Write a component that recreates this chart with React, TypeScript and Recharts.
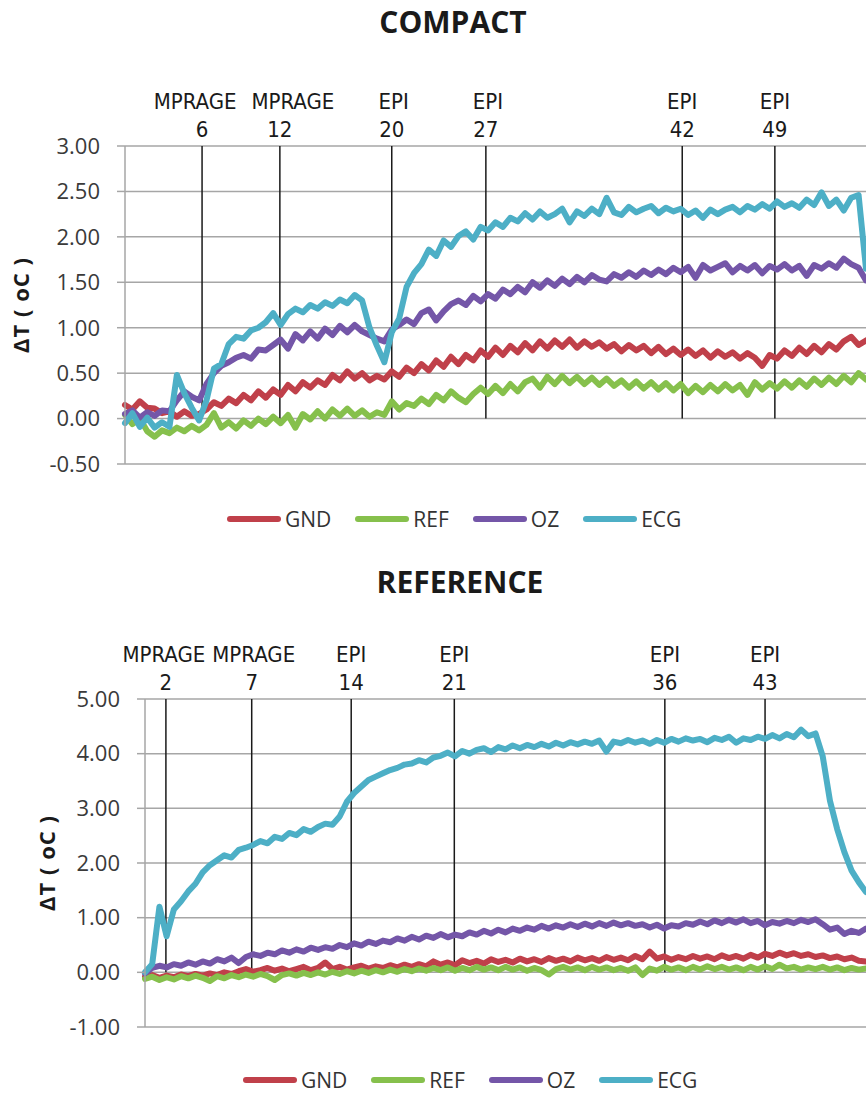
import React from 'react'
import { CartesianGrid, Line, LineChart, ReferenceLine, XAxis, YAxis } from 'recharts'

const seriesNames = ['GND', 'REF', 'OZ', 'ECG']
const seriesColors = ['#c0404a', '#86c04c', '#7456a8', '#4dafc6']

// COMPACT panel, one sample per index (0..100)
const compactGnd = [
  0.15, 0.1, 0.19, 0.12, 0.11, 0.06, 0.08, 0.02, 0.08, 0.03,
  0.05, 0.1, 0.18, 0.14, 0.22, 0.17, 0.26, 0.2, 0.3, 0.23,
  0.32, 0.26, 0.37, 0.3, 0.4, 0.34, 0.42, 0.37, 0.48, 0.42,
  0.52, 0.44, 0.5, 0.42, 0.47, 0.43, 0.52, 0.46, 0.56, 0.5,
  0.6, 0.53, 0.64, 0.57, 0.68, 0.6, 0.7, 0.64, 0.75, 0.68,
  0.78, 0.7, 0.8, 0.73, 0.83, 0.75, 0.85, 0.77, 0.86, 0.79,
  0.87, 0.78, 0.85, 0.79, 0.84, 0.77, 0.82, 0.74, 0.81, 0.75,
  0.8, 0.72, 0.79, 0.71, 0.77, 0.7, 0.76, 0.69, 0.75, 0.67,
  0.74, 0.68, 0.73, 0.66, 0.72, 0.67, 0.58, 0.7, 0.66, 0.75,
  0.69, 0.78, 0.71, 0.8, 0.73, 0.82, 0.76, 0.85, 0.9, 0.81, 0.86,
]
const compactRef = [
  0.04, -0.06, 0.0, -0.14, -0.2, -0.13, -0.16, -0.1, -0.14, -0.08,
  -0.13, -0.07, 0.06, -0.1, -0.04, -0.11, -0.02, -0.08, 0.0, -0.06,
  0.02, -0.05, 0.04, -0.1, 0.05, -0.01, 0.08, 0.0, 0.1, 0.03,
  0.11, 0.03, 0.09, 0.02, 0.07, 0.04, 0.19, 0.1, 0.17, 0.14,
  0.22, 0.16, 0.26, 0.2, 0.3, 0.23, 0.18, 0.27, 0.34, 0.27,
  0.36, 0.28, 0.38, 0.3, 0.4, 0.44, 0.34, 0.46, 0.38, 0.47,
  0.39, 0.46, 0.38, 0.45, 0.37, 0.44, 0.36, 0.42, 0.34, 0.41,
  0.33, 0.4, 0.32, 0.39, 0.31, 0.38, 0.28, 0.36, 0.29, 0.37,
  0.3, 0.38, 0.31, 0.37, 0.26, 0.4, 0.32, 0.39, 0.33, 0.41,
  0.34, 0.42, 0.35, 0.44, 0.37, 0.45, 0.38, 0.47, 0.4, 0.5, 0.43,
]
const compactOz = [
  0.05, 0.09, 0.01, 0.07, 0.03, 0.09, 0.08, 0.2, 0.3, 0.24,
  0.2, 0.38, 0.5, 0.58, 0.62, 0.67, 0.7, 0.66, 0.76, 0.75,
  0.81, 0.87, 0.77, 0.93, 0.86, 0.96, 0.88, 0.99, 0.92, 1.02,
  0.95, 1.03, 0.96, 0.92, 0.88, 0.85, 0.98, 1.03, 1.09, 1.04,
  1.16, 1.2, 1.08, 1.18, 1.26, 1.3, 1.25, 1.35, 1.29, 1.37,
  1.32, 1.42, 1.37, 1.45, 1.39, 1.5, 1.44, 1.52, 1.46, 1.54,
  1.48, 1.56, 1.5, 1.58, 1.53, 1.51, 1.59, 1.55, 1.61, 1.56,
  1.63, 1.58, 1.64, 1.59, 1.66, 1.61, 1.67, 1.55, 1.69, 1.63,
  1.67, 1.71, 1.61, 1.68, 1.63, 1.69, 1.6, 1.68, 1.64, 1.7,
  1.63, 1.68, 1.57, 1.69, 1.65, 1.71, 1.66, 1.76, 1.7, 1.66, 1.52,
]
const compactEcg = [
  -0.05, 0.06, -0.09, 0.01, -0.1, -0.04, -0.09, 0.48, 0.28, 0.12,
  -0.02, 0.2, 0.55, 0.6, 0.82, 0.9, 0.88, 0.97, 1.0, 1.06,
  1.16, 1.03, 1.15, 1.21, 1.17, 1.25, 1.21, 1.28, 1.24, 1.31,
  1.27, 1.36, 1.3, 1.0, 0.8, 0.62, 0.95, 1.1, 1.45, 1.6,
  1.7, 1.86, 1.79, 1.96, 1.89, 2.01, 2.06, 1.97, 2.11, 2.07,
  2.16, 2.11, 2.21, 2.17, 2.26, 2.19, 2.28, 2.21, 2.25, 2.31,
  2.16, 2.28, 2.23, 2.31, 2.25, 2.43, 2.27, 2.24, 2.33, 2.27,
  2.31, 2.34, 2.26, 2.32, 2.28, 2.31, 2.24, 2.29, 2.21, 2.3,
  2.25, 2.3, 2.33, 2.27, 2.34, 2.3, 2.36, 2.31, 2.39, 2.33,
  2.37, 2.32, 2.41, 2.35, 2.49, 2.34, 2.41, 2.29, 2.43, 2.46, 1.65,
]
const compactTicks = [-0.5, 0, 0.5, 1, 1.5, 2, 2.5, 3]
const compactMarkerAt = [10.4, 20.9, 36.0, 48.7, 75.2, 87.7]
const compactMarkerScan = ['MPRAGE', 'MPRAGE', 'EPI', 'EPI', 'EPI', 'EPI']
const compactMarkerNum = ['6', '12', '20', '27', '42', '49']

// REFERENCE panel
const referenceGnd = [
  -0.08, -0.05, -0.1, -0.06, -0.09, -0.04, -0.07, -0.03, -0.06, -0.02,
  -0.05, 0.0, -0.03, 0.02, 0.06, 0.01, 0.04, 0.08, 0.03, 0.07,
  0.02, 0.06, 0.1, 0.04, 0.08, 0.18, 0.06, 0.1, 0.05, 0.09,
  0.12, 0.07, 0.11, 0.08, 0.13, 0.09, 0.14, 0.1, 0.15, 0.11,
  0.2, 0.14, 0.18, 0.13, 0.22, 0.17, 0.21, 0.16, 0.24, 0.19,
  0.23, 0.18, 0.25, 0.2, 0.24, 0.19, 0.26, 0.21, 0.25, 0.2,
  0.27, 0.22, 0.26, 0.21, 0.28, 0.23, 0.27, 0.22, 0.3, 0.24,
  0.38, 0.25, 0.29, 0.23, 0.28, 0.24, 0.3, 0.25, 0.29, 0.24,
  0.31, 0.26, 0.3, 0.25, 0.32, 0.27, 0.34, 0.3, 0.36, 0.31,
  0.35, 0.3, 0.33, 0.28, 0.31, 0.26, 0.29, 0.24, 0.27, 0.21, 0.2,
]
const referenceRef = [
  -0.12, -0.08, -0.14, -0.09, -0.13, -0.07, -0.11, -0.06, -0.1, -0.16,
  -0.07, -0.11, -0.05, -0.09, -0.04, -0.08, -0.03, -0.07, -0.14, -0.05,
  -0.02, -0.06, -0.01, -0.05, 0.0, -0.04, 0.01, -0.03, 0.02, -0.02,
  0.03, -0.01, 0.04, 0.0, 0.05, 0.01, 0.06, 0.02, 0.07, 0.03,
  0.08, 0.04, 0.09, 0.03, 0.08, 0.04, 0.1, 0.05, 0.09, 0.04,
  0.1, 0.05, 0.09, 0.03, 0.08, 0.04, -0.04, 0.06, 0.1, 0.05,
  0.09, 0.04, 0.1, 0.05, 0.09, 0.04, 0.08, 0.03, 0.09, -0.05,
  0.07, 0.03, 0.1, 0.05, 0.09, 0.04, 0.1, 0.05, 0.11, 0.06,
  0.1, 0.05, 0.09, 0.04, 0.1, 0.05, 0.11, 0.06, 0.14, 0.07,
  0.1, 0.05, 0.09, 0.06, 0.1, 0.05, 0.09, 0.04, 0.08, 0.05, 0.07,
]
const referenceOz = [
  -0.02, 0.08, 0.12, 0.09, 0.15, 0.12, 0.18, 0.14, 0.2, 0.16,
  0.24, 0.2, 0.27, 0.17, 0.28, 0.33, 0.3, 0.36, 0.33, 0.4,
  0.36, 0.42, 0.38, 0.45, 0.41, 0.46, 0.43, 0.5, 0.46, 0.53,
  0.49, 0.56, 0.52, 0.58, 0.55, 0.62, 0.58, 0.65, 0.6, 0.67,
  0.63, 0.7, 0.64, 0.69, 0.66, 0.73, 0.69, 0.76, 0.71, 0.78,
  0.73, 0.8, 0.76, 0.82, 0.78, 0.85, 0.8, 0.86, 0.82, 0.88,
  0.83, 0.89, 0.84, 0.9, 0.85, 0.91, 0.86, 0.9, 0.85, 0.88,
  0.82, 0.87, 0.8, 0.86, 0.84, 0.9, 0.87, 0.93, 0.88, 0.95,
  0.9, 0.96, 0.91, 0.97, 0.9, 0.94, 0.86, 0.92, 0.89, 0.94,
  0.9, 0.96, 0.92, 0.97, 0.88, 0.78, 0.82, 0.7, 0.76, 0.72, 0.8,
]
const referenceEcg = [
  0.0, 0.15, 1.2, 0.66, 1.15, 1.3, 1.48, 1.62, 1.83, 1.96,
  2.05, 2.14, 2.1, 2.24, 2.28, 2.33, 2.4, 2.36, 2.48, 2.44,
  2.55, 2.51, 2.62, 2.57, 2.66, 2.72, 2.7, 2.85, 3.12, 3.28,
  3.4, 3.52, 3.58, 3.64, 3.7, 3.74, 3.8, 3.82, 3.88, 3.84,
  3.93, 3.96, 4.02, 3.95, 4.05, 4.0, 4.07, 4.1, 4.03, 4.12,
  4.08, 4.15, 4.1, 4.16, 4.12, 4.18, 4.13, 4.2, 4.15, 4.21,
  4.17, 4.22, 4.18, 4.24, 4.04, 4.22, 4.19, 4.25, 4.2, 4.24,
  4.18, 4.25, 4.2, 4.27, 4.22, 4.28, 4.24, 4.27, 4.21, 4.29,
  4.25, 4.31, 4.2, 4.28, 4.25, 4.31, 4.27, 4.34, 4.28, 4.36,
  4.3, 4.44, 4.32, 4.37, 3.95, 3.14, 2.62, 2.2, 1.86, 1.65, 1.47,
]
const referenceTicks = [-1, 0, 1, 2, 3, 4, 5]
const referenceMarkerAt = [2.9, 14.8, 28.6, 42.9, 72.1, 86.0]
const referenceMarkerScan = ['MPRAGE', 'MPRAGE', 'EPI', 'EPI', 'EPI', 'EPI']
const referenceMarkerNum = ['2', '7', '14', '21', '36', '43']

const buildRows = (gnd: number[], ref: number[], oz: number[], ecg: number[]) =>
  gnd.map((v, i) => ({ t: i, GND: v, REF: ref[i], OZ: oz[i], ECG: ecg[i] }))

const tickFont = { fontFamily: '"Open Sans", sans-serif', fontSize: 22, fill: '#3a3a3a' }
const markerFont = '"Liberation Sans Narrow", "DejaVu Sans Condensed", sans-serif'

function MarkerLabel({ viewBox, scan, num, dx }: any) {
  const x = viewBox.x
  const y = viewBox.y
  return (
    <g fontFamily={markerFont} fontSize={22} fill="#1a1a1a" textAnchor="middle">
      <text x={x + dx} y={y - 37}>{scan}</text>
      <text x={x} y={y - 9}>{num}</text>
    </g>
  )
}

function Legend({ left, top }: { left: number; top: number }) {
  return (
    <div style={{ position: 'absolute', left, top, display: 'flex', alignItems: 'center' }}>
      {seriesNames.map((name, i) => (
        <div key={name} style={{ display: 'flex', alignItems: 'center', marginRight: 24 }}>
          <span style={{ width: 54, height: 6, borderRadius: 3, background: seriesColors[i] }} />
          <span style={{ marginLeft: 4, fontFamily: '"Open Sans", sans-serif', fontSize: 21, color: '#333', lineHeight: '28px' }}>
            {name}
          </span>
        </div>
      ))}
    </div>
  )
}

interface PanelProps {
  title: string
  titleTop: number
  titleCenter: number
  top: number
  rows: any[]
  ticks: number[]
  markerAt: number[]
  markerScan: string[]
  markerNum: string[]
  scanDx: number[]
  axisWidth: number
  marginTop: number
  plotHeight: number
  labelOffset: number
  legendLeft: number
  legendTop: number
}

function Panel(p: PanelProps) {
  const yMin = p.ticks[0]
  const yMax = p.ticks[p.ticks.length - 1]
  const bottomPad = 16
  return (
    <>
      <div
        style={{
          position: 'absolute', top: p.titleTop, left: p.titleCenter - 200, width: 400, textAlign: 'center',
          fontFamily: '"Open Sans", sans-serif', fontWeight: 700, fontSize: 30, color: '#1a1a1a', lineHeight: '40px',
        }}
      >
        {p.title}
      </div>
      <div style={{ position: 'absolute', top: p.top, left: 0 }}>
        <LineChart
          width={866}
          height={p.marginTop + p.plotHeight + bottomPad}
          data={p.rows}
          margin={{ top: p.marginTop, right: 0, bottom: bottomPad, left: 10 }}
        >
          <CartesianGrid vertical={false} stroke="#a6a6a6" strokeWidth={1.5} />
          <XAxis type="number" dataKey="t" domain={[0, 100]} hide />
          <YAxis
            width={p.axisWidth}
            domain={[yMin, yMax]}
            ticks={p.ticks}
            interval={0}
            tickFormatter={(v: number) => v.toFixed(2)}
            tick={tickFont}
            tickSize={8}
            tickMargin={17}
            axisLine={{ stroke: '#a6a6a6', strokeWidth: 1.5 }}
            tickLine={{ stroke: '#a6a6a6', strokeWidth: 1.5 }}
            label={{
              value: 'ΔT ( oC )',
              angle: -90,
              position: 'insideLeft',
              offset: p.labelOffset,
              style: { textAnchor: 'middle', fontFamily: '"Open Sans", sans-serif', fontWeight: 700, fontSize: 22, fill: '#1a1a1a', letterSpacing: 1 },
            }}
          />
          {p.markerAt.map((m, i) => (
            <ReferenceLine
              key={i}
              segment={[{ x: m, y: 0 }, { x: m, y: yMax }]}
              stroke="#1a1a1a"
              strokeWidth={1.5}
              label={(lp: any) => <MarkerLabel {...lp} scan={p.markerScan[i]} num={p.markerNum[i]} dx={p.scanDx[i]} />}
            />
          ))}
          {seriesNames.map((name, i) => (
            <Line
              key={name}
              dataKey={name}
              stroke={seriesColors[i]}
              strokeWidth={6}
              strokeLinejoin="round"
              strokeLinecap="round"
              dot={false}
              type="linear"
              isAnimationActive={false}
            />
          ))}
        </LineChart>
      </div>
      <Legend left={p.legendLeft} top={p.legendTop} />
    </>
  )
}

export default function App() {
  return (
    <div style={{ position: 'absolute', top: 0, left: 0, width: 866, height: 1097, overflow: 'hidden', background: '#fff' }}>
      <Panel
        title="COMPACT"
        titleTop={2}
        titleCenter={453}
        top={0}
        rows={buildRows(compactGnd, compactRef, compactOz, compactEcg)}
        ticks={compactTicks}
        markerAt={compactMarkerAt}
        markerScan={compactMarkerScan}
        markerNum={compactMarkerNum}
        scanDx={[-7, 13, 2, 2, 0, 0]}
        axisWidth={115}
        marginTop={146}
        plotHeight={318}
        labelOffset={11}
        legendLeft={227}
        legendTop={505}
      />
      <Panel
        title="REFERENCE"
        titleTop={562}
        titleCenter={460}
        top={560}
        rows={buildRows(referenceGnd, referenceRef, referenceOz, referenceEcg)}
        ticks={referenceTicks}
        markerAt={referenceMarkerAt}
        markerScan={referenceMarkerScan}
        markerNum={referenceMarkerNum}
        scanDx={[-2, 2, 0, 0, 0, 0]}
        axisWidth={135}
        marginTop={139}
        plotHeight={328}
        labelOffset={37}
        legendLeft={243}
        legendTop={1066}
      />
    </div>
  )
}
